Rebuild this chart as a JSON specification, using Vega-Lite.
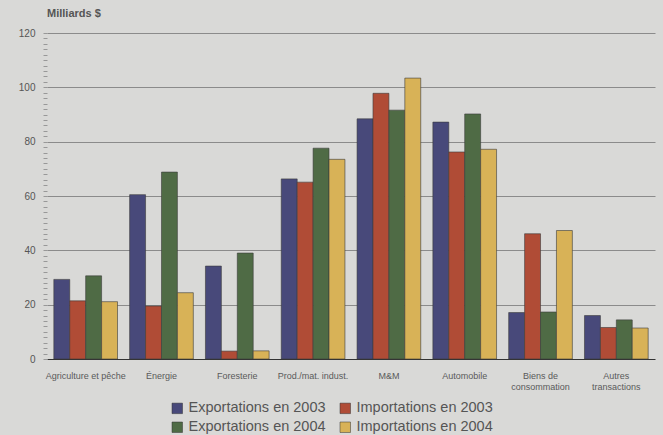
{
  "$schema": "https://vega.github.io/schema/vega-lite/v6.json",
  "width": 608,
  "height": 326,
  "autosize": "none",
  "padding": {"left": 47, "top": 33, "right": 8, "bottom": 76},
  "background": "#d9d9d7",
  "title": {"text": "Milliards $", "anchor": "start", "frame": "group", "offset": 9, "fontSize": 11, "font": "Liberation Sans", "fontWeight": "bold", "color": "#555555"},
  "config": {"view": {"stroke": null}, "font": "Liberation Sans"},
  "data": {"values": [
    {"cat": "Agriculture et pêche", "serie": "Exportations en 2003", "val": 29.3},
    {"cat": "Agriculture et pêche", "serie": "Importations en 2003", "val": 21.4},
    {"cat": "Agriculture et pêche", "serie": "Exportations en 2004", "val": 30.6},
    {"cat": "Agriculture et pêche", "serie": "Importations en 2004", "val": 21.1},
    {"cat": "Énergie", "serie": "Exportations en 2003", "val": 60.5},
    {"cat": "Énergie", "serie": "Importations en 2003", "val": 19.5},
    {"cat": "Énergie", "serie": "Exportations en 2004", "val": 68.8},
    {"cat": "Énergie", "serie": "Importations en 2004", "val": 24.4},
    {"cat": "Foresterie", "serie": "Exportations en 2003", "val": 34.2},
    {"cat": "Foresterie", "serie": "Importations en 2003", "val": 2.9},
    {"cat": "Foresterie", "serie": "Exportations en 2004", "val": 39.0},
    {"cat": "Foresterie", "serie": "Importations en 2004", "val": 3.0},
    {"cat": "Prod./mat. indust.", "serie": "Exportations en 2003", "val": 66.3},
    {"cat": "Prod./mat. indust.", "serie": "Importations en 2003", "val": 65.1},
    {"cat": "Prod./mat. indust.", "serie": "Exportations en 2004", "val": 77.6},
    {"cat": "Prod./mat. indust.", "serie": "Importations en 2004", "val": 73.5},
    {"cat": "M&M", "serie": "Exportations en 2003", "val": 88.4},
    {"cat": "M&M", "serie": "Importations en 2003", "val": 97.8},
    {"cat": "M&M", "serie": "Exportations en 2004", "val": 91.6},
    {"cat": "M&M", "serie": "Importations en 2004", "val": 103.4},
    {"cat": "Automobile", "serie": "Exportations en 2003", "val": 87.2},
    {"cat": "Automobile", "serie": "Importations en 2003", "val": 76.2},
    {"cat": "Automobile", "serie": "Exportations en 2004", "val": 90.2},
    {"cat": "Automobile", "serie": "Importations en 2004", "val": 77.2},
    {"cat": "Biens de consommation", "serie": "Exportations en 2003", "val": 17.1},
    {"cat": "Biens de consommation", "serie": "Importations en 2003", "val": 46.1},
    {"cat": "Biens de consommation", "serie": "Exportations en 2004", "val": 17.3},
    {"cat": "Biens de consommation", "serie": "Importations en 2004", "val": 47.3},
    {"cat": "Autres transactions", "serie": "Exportations en 2003", "val": 16.0},
    {"cat": "Autres transactions", "serie": "Importations en 2003", "val": 11.6},
    {"cat": "Autres transactions", "serie": "Exportations en 2004", "val": 14.4},
    {"cat": "Autres transactions", "serie": "Importations en 2004", "val": 11.4}
  ]},
  "mark": {"type": "bar", "stroke": "#3a3a3a", "strokeWidth": 0.6},
  "encoding": {
    "x": {
      "field": "cat", "type": "nominal", "sort": null, "title": null,
      "scale": {"paddingInner": 0.16, "paddingOuter": 0.09},
      "axis": {
        "labelAngle": 0, "ticks": false, "domainColor": "#333333", "domainWidth": 1.2,
        "labelFontSize": 9, "labelColor": "#5a5a5a", "labelPadding": 12,
        "labelExpr": "datum.value == 'Biens de consommation' ? ['Biens de', 'consommation'] : datum.value == 'Autres transactions' ? ['Autres', 'transactions'] : datum.value"
      }
    },
    "xOffset": {"field": "serie", "type": "nominal", "sort": ["Exportations en 2003", "Importations en 2003", "Exportations en 2004", "Importations en 2004"], "scale": {"paddingInner": 0, "paddingOuter": 0}},
    "y": {
      "field": "val", "type": "quantitative", "title": null,
      "scale": {"domain": [0, 120], "nice": false},
      "axis": {
        "values": [0,2,4,6,8,10,12,14,16,18,20,22,24,26,28,30,32,34,36,38,40,42,44,46,48,50,52,54,56,58,60,62,64,66,68,70,72,74,76,78,80,82,84,86,88,90,92,94,96,98,100,102,104,106,108,110,112,114,116,118,120],
        "labelExpr": "datum.value % 20 === 0 ? datum.value : ''",
        "grid": true,
        "gridColor": "#777777",
        "gridWidth": 0.8,
        "gridOpacity": {"condition": {"test": "datum.value % 20 === 0 && datum.value > 0", "value": 1}, "value": 0},
        "tickSize": 4, "tickColor": "#888888", "tickWidth": 0.8,
        "domain": false,
        "labelFontSize": 10, "labelColor": "#555555", "labelPadding": 8
      }
    },
    "color": {
      "field": "serie", "type": "nominal", "title": null,
      "sort": ["Exportations en 2003", "Importations en 2003", "Exportations en 2004", "Importations en 2004"],
      "scale": {"range": ["#48497a", "#b04c36", "#4f6b45", "#d8b257"]},
      "legend": {
        "orient": "none", "legendX": 123, "legendY": 368,
        "direction": "horizontal", "columns": 2, "symbolType": "square", "symbolSize": 110,
        "symbolStrokeColor": "#333333", "symbolStrokeWidth": 0.5,
        "labelFontSize": 14.5, "labelColor": "#555555", "columnPadding": 12, "rowPadding": 4
      }
    }
  }
}
